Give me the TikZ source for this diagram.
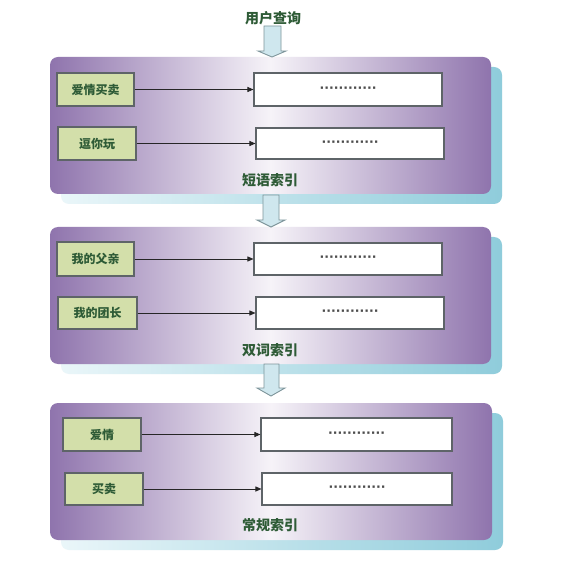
\documentclass[tikz,border=0pt]{standalone}
\usepackage{fontspec}
\newfontfamily\cjk{Noto Sans CJK SC}
\newfontfamily\dotfont{DejaVu Sans}
\usetikzlibrary{arrows.meta}
\definecolor{panelpurple}{HTML}{8F74AD}
\definecolor{panelmid}{HTML}{F6F3F8}
\definecolor{shadowcyan}{HTML}{8FCCDB}
\definecolor{shadowlight}{HTML}{EAF6F9}
\definecolor{greenfill}{HTML}{D3DFAA}
\definecolor{greentext}{HTML}{2E5B36}
\definecolor{boxborder}{HTML}{5E6468}
\definecolor{arrowfill}{HTML}{CFE7EE}
\definecolor{arrowborder}{HTML}{7E959B}
\newcommand{\dotrow}{\raisebox{-2.5pt}{············}}
\tikzset{
  x=1pt, y=-1pt,
  panel/.style={rounded corners=8pt, minimum width=441pt, minimum height=137pt,
    left color=panelpurple, right color=panelpurple, middle color=panelmid, inner sep=0pt},
  panelshadow/.style={rounded corners=8pt, minimum width=441pt, minimum height=137pt,
    left color=shadowlight, right color=shadowcyan, inner sep=0pt},
  keybox/.style={draw=boxborder, line width=1.1pt, fill=greenfill, inner sep=0pt,
    minimum height=33pt, font=\cjk\bfseries\fontsize{12}{14}\selectfont, text=greentext},
  valbox/.style={draw=boxborder, line width=1.1pt, fill=white, inner sep=0pt,
    minimum height=32pt, minimum width=188pt, font=\dotfont\bfseries\fontsize{12.5}{14}\selectfont, text=black!70},
  caption/.style={font=\cjk\bfseries\fontsize{14}{16}\selectfont, text=greentext, inner sep=0pt},
  link/.style={draw=black!85, line width=0.9pt, -{Triangle[length=6pt,width=5pt]}},
  blockarrow/.style={draw=arrowborder, line width=0.9pt, fill=arrowfill, line join=miter}
}
\begin{document}
\begin{tikzpicture}
\useasboundingbox (0,0) rectangle (562,561);
\fill[white] (0,0) rectangle (562,561);

% title
\node[caption] (title) at (273,18) {用户查询};

% panel 1
\node[panelshadow] (sh1) at (281.5,135.5) {};
\node[panel] (p1) at (270.5,125.5) {};
\node[keybox, minimum width=77pt] (k11) at (95.5,89.5) {爱情买卖};
\node[keybox, minimum width=78pt] (k12) at (97,143.5) {逗你玩};
\node[valbox, minimum height=33pt] (v11) at (348,89.5) {\dotrow};
\node[valbox, minimum height=31pt] (v12) at (350,143.5) {\dotrow};
\draw[link] (k11) -- (v11);
\draw[link] (k12) -- (v12);
\node[caption] (c1) at (270,180) {短语索引};

% panel 2
\node[panelshadow] (sh2) at (281.5,305.5) {};
\node[panel] (p2) at (270.5,295.5) {};
\node[keybox, minimum width=77pt, minimum height=34pt] (k21) at (95.5,259) {我的父亲};
\node[keybox, minimum width=79pt, minimum height=32pt] (k22) at (97.5,313) {我的团长};
\node[valbox] (v21) at (348,259) {\dotrow};
\node[valbox] (v22) at (350,313) {\dotrow};
\draw[link] (k21) -- (v21);
\draw[link] (k22) -- (v22);
\node[caption] (c2) at (270,350) {双词索引};

% panel 3
\node[panelshadow, minimum width=442pt] (sh3) at (282,481.5) {};
\node[panel, minimum width=442pt] (p3) at (271,471.5) {};
\node[keybox, minimum width=78pt] (k31) at (102,434.5) {爱情};
\node[keybox, minimum width=78pt, minimum height=32pt] (k32) at (104,489) {买卖};
\node[valbox, minimum width=191pt, minimum height=33pt] (v31) at (356.5,434.5) {\dotrow};
\node[valbox, minimum width=190pt] (v32) at (357,489) {\dotrow};
\draw[link] (k31) -- (v31);
\draw[link] (k32) -- (v32);
\node[caption] (c3) at (270,525) {常规索引};

% block arrows
\draw[blockarrow] (264,26) -- (281,26) -- (281,51) -- (286,51) -- (272,57) -- (258,51) -- (264,51) -- cycle;
\draw[blockarrow] (263,195) -- (279,195) -- (279,220) -- (285,220) -- (271,227) -- (257,220) -- (263,220) -- cycle;
\draw[blockarrow] (264,364) -- (279,364) -- (279,388) -- (285,388) -- (271,396) -- (257,388) -- (264,388) -- cycle;
\end{tikzpicture}
\end{document}
